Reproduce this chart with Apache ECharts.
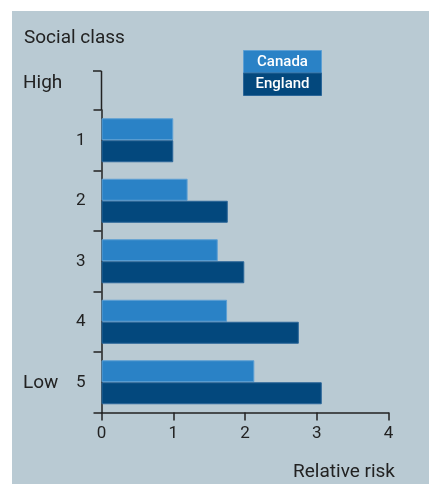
<!DOCTYPE html>
<html><head><meta charset="utf-8">
<script src="https://cdn.jsdelivr.net/npm/echarts@6/dist/echarts.min.js"></script>
<style>html,body{margin:0;padding:0;background:#fff}#c{width:429px;height:484px}</style>
</head><body><div id="c"></div>
<script>
const categories = ['1','2','3','4','5'];
const seriesNames = ['Canada','England'];
const canada = [1.0, 1.2, 1.62, 1.75, 2.13];
const england = [1.0, 1.76, 1.99, 2.75, 3.07];
const xTicks = [0,1,2,3,4];
const colors = ['#2a82c6','#03487d'];
const borders = ['#5d9fd3','#2b6698'];
const FONT = 'Roboto';
const txt = '#222';

const chart = echarts.init(document.getElementById('c'), null, {renderer:'canvas'});
chart.setOption({
  animation:false,
  backgroundColor:'#fff',
  grid:{left:101.5, right:40.5, top:110, bottom:71.5},
  xAxis:{type:'value', min:xTicks[0], max:xTicks[xTicks.length-1], interval:1,
    axisLine:{show:true, lineStyle:{color:txt, width:1.5}},
    axisTick:{show:true, length:8, lineStyle:{color:txt, width:1.5}},
    splitLine:{show:false},
    axisLabel:{color:txt, fontSize:17, fontFamily:FONT, margin:13}},
  yAxis:{type:'category', data:categories, inverse:true,
    axisLine:{show:true, lineStyle:{color:txt, width:1.5}},
    axisTick:{show:true, length:8, lineStyle:{color:txt, width:1.5}},
    axisLabel:{color:txt, fontSize:17, fontFamily:FONT, margin:16}},
  series:[
    {name:seriesNames[0], type:'bar', data:canada, barWidth:22, barGap:'0%',
     itemStyle:{color:colors[0], borderColor:borders[0], borderWidth:1}},
    {name:seriesNames[1], type:'bar', data:england, barWidth:22,
     itemStyle:{color:colors[1], borderColor:borders[1], borderWidth:1}}
  ],
  graphic:[
    {type:'rect', z:-10, shape:{x:12, y:11, width:417, height:473}, style:{fill:'#b9cad3'}},
    {type:'line', shape:{x1:101.5, y1:71, x2:101.5, y2:110}, style:{stroke:txt, lineWidth:1.5}},
    {type:'line', shape:{x1:93, y1:71, x2:101.5, y2:71}, style:{stroke:txt, lineWidth:1.5}},
    {type:'text', x:24, y:38, style:{text:'Social class', fill:txt, font:'19px '+FONT, textVerticalAlign:'middle'}},
    {type:'text', x:23, y:83, style:{text:'High', fill:txt, font:'19px '+FONT, textVerticalAlign:'middle'}},
    {type:'text', x:23, y:383, style:{text:'Low', fill:txt, font:'19px '+FONT, textVerticalAlign:'middle'}},
    {type:'text', x:395, y:472, style:{text:'Relative risk', fill:txt, font:'19px '+FONT, textAlign:'right', textVerticalAlign:'middle'}},
    {type:'rect', shape:{x:243.5, y:50.5, width:78, height:22.5}, style:{fill:colors[0], stroke:borders[0], lineWidth:1}},
    {type:'rect', shape:{x:243.5, y:73, width:78, height:22.5}, style:{fill:colors[1], stroke:borders[1], lineWidth:1}},
    {type:'text', x:282.5, y:62, style:{text:seriesNames[0], fill:'#fff', font:'500 15px '+FONT, textAlign:'center', textVerticalAlign:'middle'}},
    {type:'text', x:282.5, y:84.5, style:{text:seriesNames[1], fill:'#fff', font:'500 15px '+FONT, textAlign:'center', textVerticalAlign:'middle'}}
  ]
});
</script></body></html>
